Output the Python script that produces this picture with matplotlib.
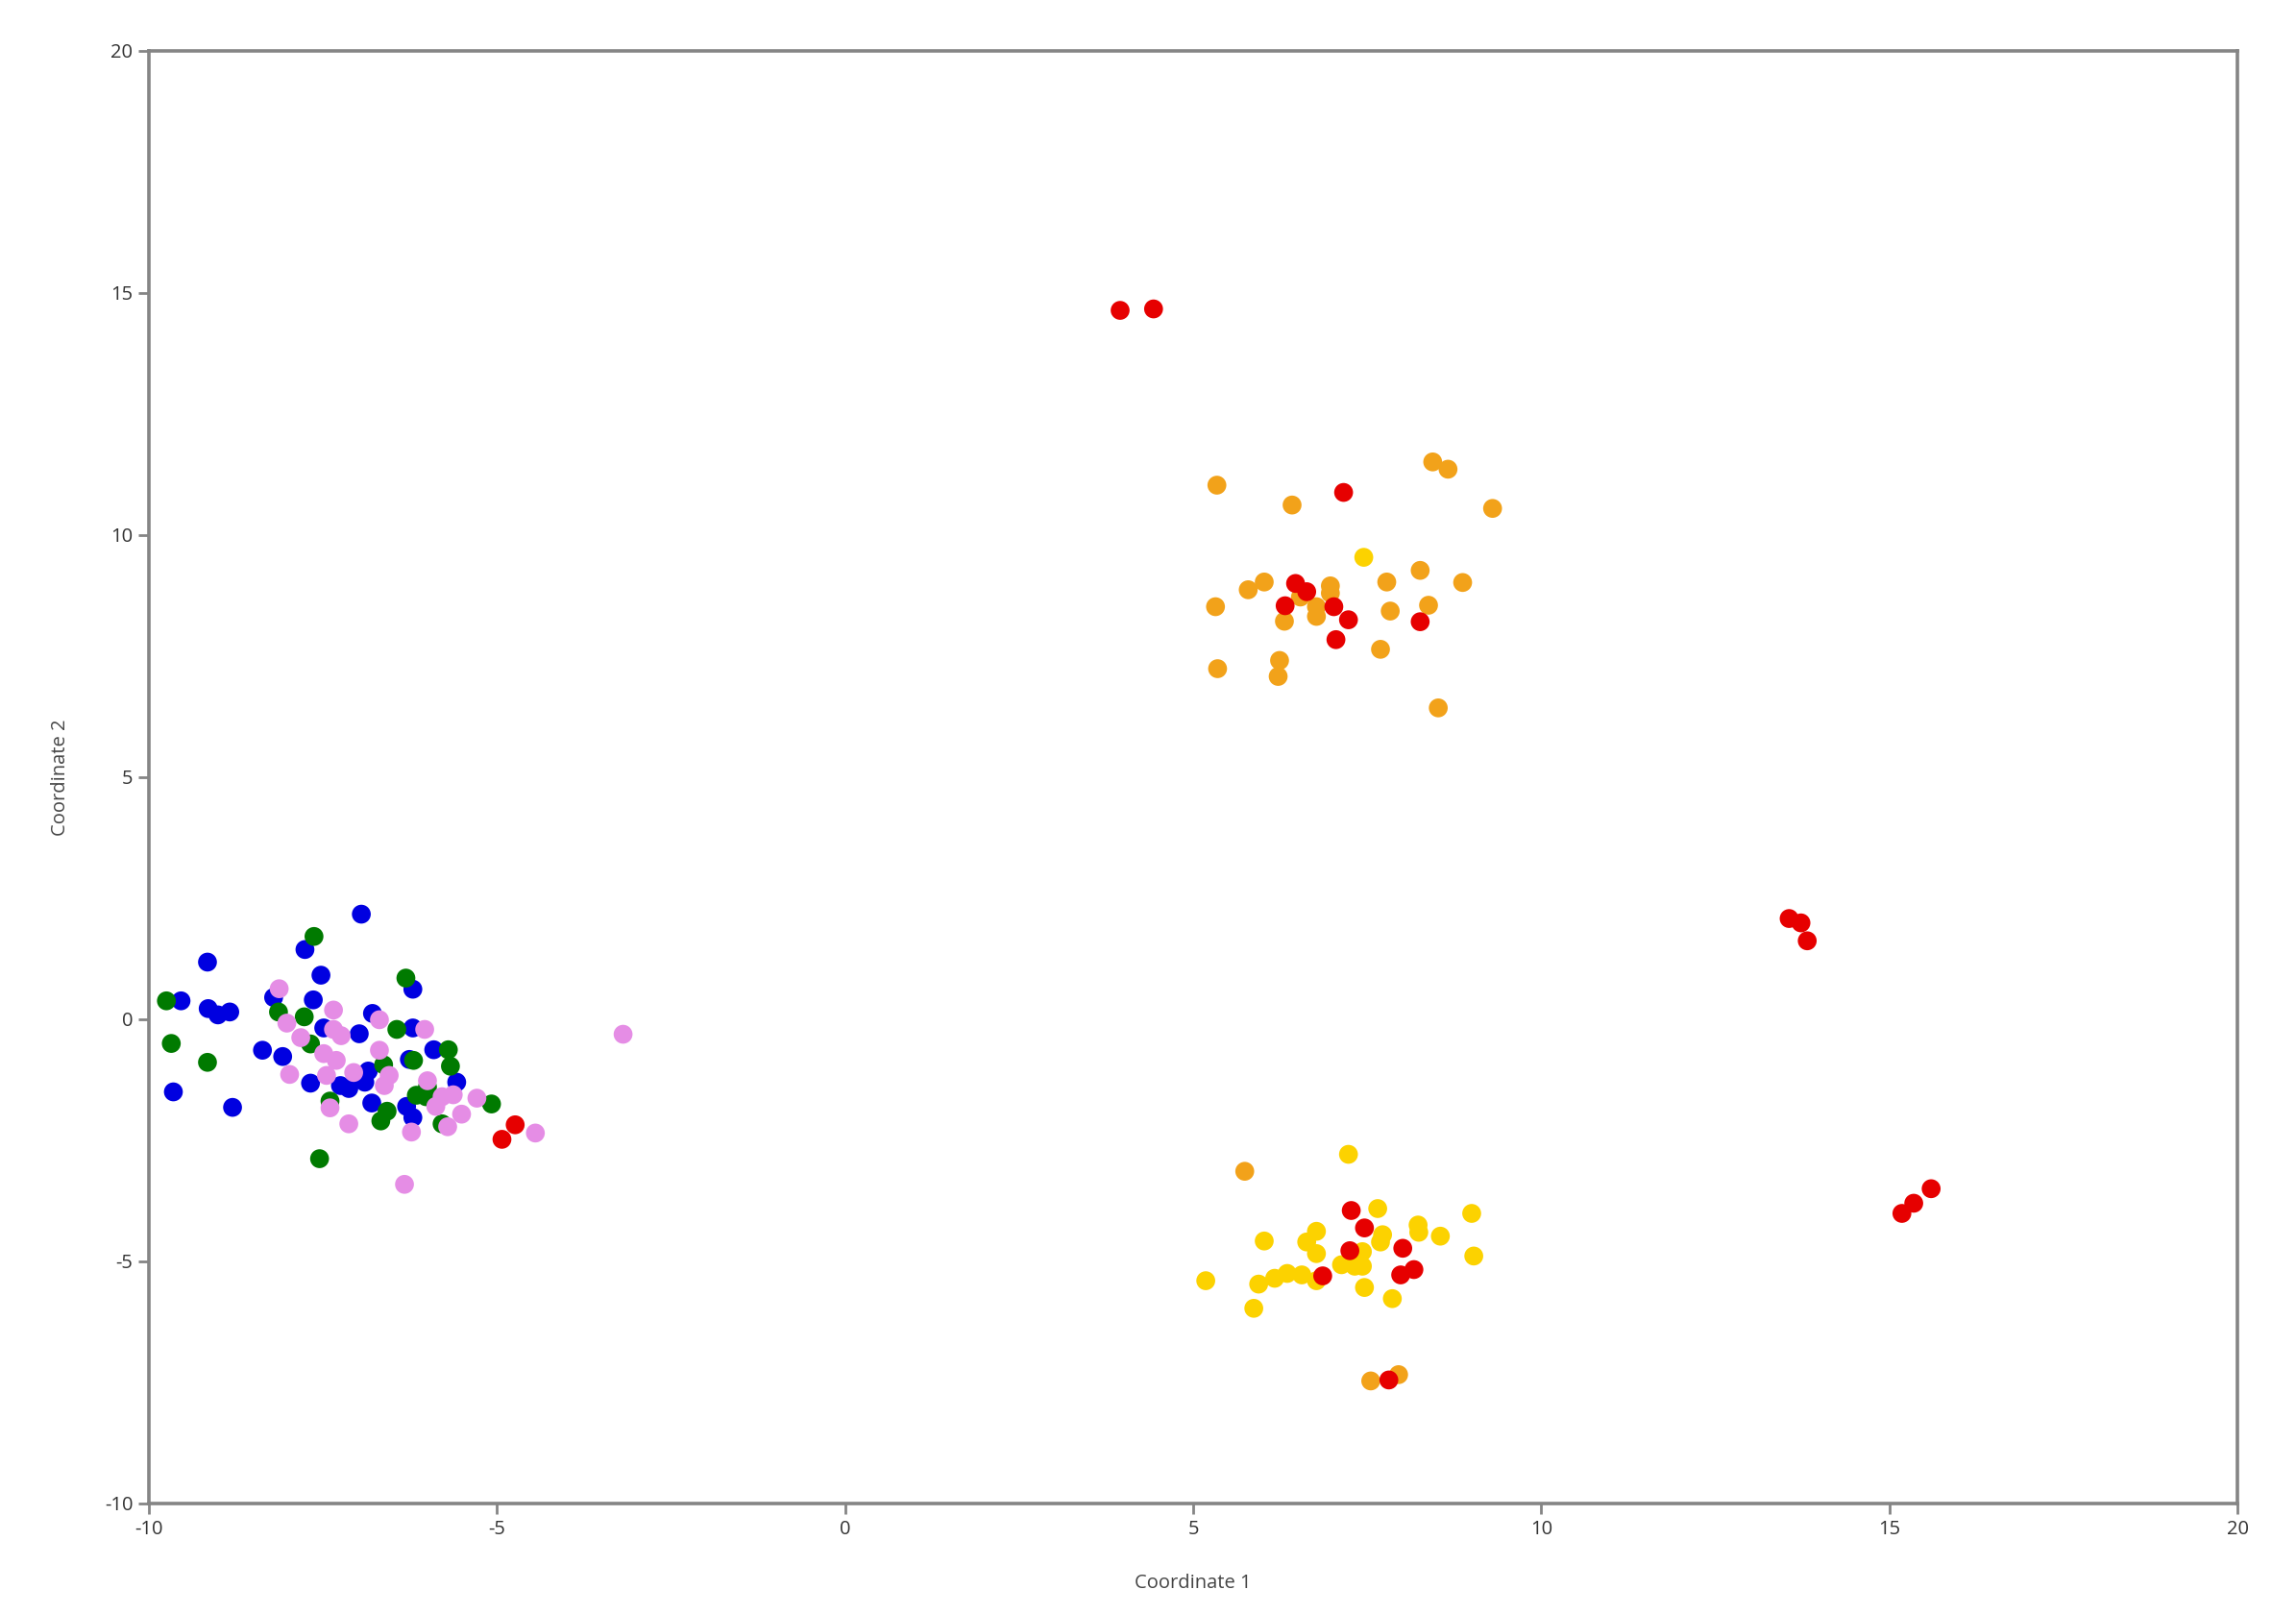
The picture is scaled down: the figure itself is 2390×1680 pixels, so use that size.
import matplotlib.pyplot as plt

# --- groups (Coordinate 1, Coordinate 2) ---
blue_x = [-6.95, -9.16, -7.76, -7.53, -9.54, -9.15, -9.01, -8.84, -8.21, -7.64,
          -6.21, -6.79, -7.49, -6.98, -6.21, -8.37, -8.08, -5.91, -6.26, -9.65,
          -8.80, -7.68, -7.25, -7.13, -6.85, -6.90, -6.80, -6.30, -6.21, -5.58]
blue_y = [2.17, 1.18, 1.44, 0.91, 0.38, 0.22, 0.09, 0.15, 0.45, 0.40,
          0.62, 0.12, -0.18, -0.30, -0.18, -0.64, -0.77, -0.63, -0.83, -1.50,
          -1.82, -1.32, -1.37, -1.43, -1.07, -1.30, -1.73, -1.80, -2.03, -1.30]

green_x = [-7.63, -6.31, -9.75, -8.14, -7.77, -9.68, -9.16, -7.68, -6.44, -5.70,
           -5.67, -6.20, -6.63, -5.08, -7.40, -6.67, -6.58, -6.16, -6.02, -5.79,
           -7.55, -6.00]
green_y = [1.71, 0.85, 0.38, 0.15, 0.05, -0.50, -0.89, -0.51, -0.21, -0.63,
           -0.97, -0.85, -0.94, -1.75, -1.69, -2.10, -1.90, -1.57, -1.60, -2.16,
           -2.88, -1.40]

violet_x = [-8.13, -7.35, -8.02, -6.69, -7.35, -7.24, -7.82, -6.04, -6.69, -7.49,
            -7.31, -7.98, -7.45, -7.06, -6.55, -6.62, -6.00, -5.79, -5.63, -5.88,
            -5.29, -5.51, -5.71, -7.40, -7.13, -6.23, -6.33, -4.45, -3.19]
violet_y = [0.63, 0.19, -0.08, -0.01, -0.21, -0.34, -0.38, -0.21, -0.64, -0.71,
            -0.85, -1.14, -1.16, -1.10, -1.16, -1.37, -1.27, -1.60, -1.56, -1.80,
            -1.63, -1.96, -2.22, -1.83, -2.16, -2.33, -3.41, -2.35, -0.31]

orange_x = [5.34, 6.42, 8.44, 8.66, 9.30, 8.26, 7.78, 8.87, 5.79, 6.02,
            6.97, 6.97, 5.32, 6.54, 6.77, 6.77, 6.31, 7.83, 8.38, 7.69,
            5.35, 6.24, 6.22, 8.52, 5.74, 7.55, 7.95]
orange_y = [11.03, 10.62, 11.51, 11.36, 10.55, 9.27, 9.03, 9.02, 8.87, 9.03,
            8.95, 8.80, 8.52, 8.72, 8.52, 8.32, 8.22, 8.43, 8.55, 7.64,
            7.24, 7.41, 7.08, 6.43, -3.14, -7.47, -7.34]

gold_x = [7.45, 7.23, 7.65, 9.00, 8.23, 8.24, 8.55, 7.72, 7.69, 7.43,
          9.03, 6.02, 6.77, 6.63, 6.77, 5.18, 5.94, 6.17, 6.35, 6.56,
          6.77, 5.87, 7.13, 7.32, 7.46, 7.86, 7.43]
gold_y = [9.54, -2.79, -3.91, -4.01, -4.25, -4.40, -4.48, -4.45, -4.60, -4.80,
          -4.89, -4.58, -4.38, -4.60, -4.84, -5.40, -5.47, -5.35, -5.25, -5.28,
          -5.40, -5.97, -5.07, -5.10, -5.54, -5.77, -5.10]

red_x = [-4.74, -4.93, 7.16, 6.47, 6.63, 6.32, 7.02, 7.23, 7.05, 8.26,
         7.27, 7.46, 8.01, 7.25, 7.98, 8.17, 7.81, 6.86,
         3.95, 4.43, 13.56, 13.73, 13.82, 15.18, 15.35, 15.60]
red_y = [-2.18, -2.48, 10.88, 9.00, 8.83, 8.54, 8.52, 8.25, 7.84, 8.21,
         -3.95, -4.31, -4.73, -4.78, -5.28, -5.17, -7.45, -5.30,
         14.64, 14.67, 2.08, 1.99, 1.62, -4.01, -3.80, -3.50]

groups = [
    (blue_x, blue_y, '#0000e0'),
    (green_x, green_y, '#007a00'),
    (violet_x, violet_y, '#e58de5'),
    (orange_x, orange_y, '#f2a21a'),
    (gold_x, gold_y, '#fcd200'),
    (red_x, red_y, '#e60000'),
]

plt.rcParams['font.family'] = ['Open Sans', 'DejaVu Sans']
plt.rcParams['axes.unicode_minus'] = False

fig = plt.figure(figsize=(23.9, 16.8), dpi=100)
ax = fig.add_axes([0.0649, 0.0685, 0.9096, 0.9000])

for xs, ys, col in groups:
    ax.scatter(xs, ys, s=200, color=col, edgecolors='none', zorder=3)

ax.set_xlim(-10, 20)
ax.set_ylim(-10, 20)
ax.set_xticks(range(-10, 21, 5))
ax.set_yticks(range(-10, 21, 5))

for sp in ax.spines.values():
    sp.set_color('#858585')
    sp.set_linewidth(2.6)

ax.tick_params(direction='out', length=8, width=2, color='#858585',
               labelsize=14.5, labelcolor='#333333', pad=4)
ax.set_xlabel("Coordinate 1", fontsize=14.5, color='#444444', labelpad=26)
ax.set_ylabel("Coordinate 2", fontsize=14.5, color='#444444', labelpad=26)

fig.savefig("out.png", dpi=100)
